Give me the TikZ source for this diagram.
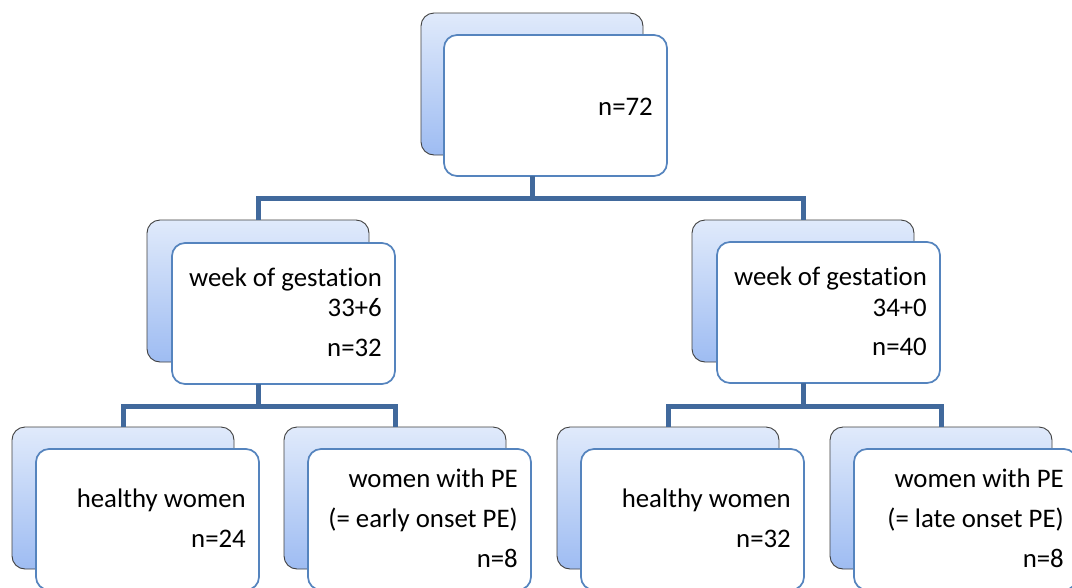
\documentclass[tikz,border=0pt]{standalone}
\usepackage{fontspec}
\setmainfont[Ligatures=NoCommon]{Carlito}
\usetikzlibrary{calc}
\definecolor{bktop}{HTML}{E0EAFB}
\definecolor{bkbot}{HTML}{9EBCF2}
\definecolor{frontblue}{HTML}{5584BE}
\definecolor{linkblue}{HTML}{41699C}
\definecolor{txt}{HTML}{000000}
\tikzset{
  backbox/.style={draw=black!75, line width=0.9pt, rounded corners=13pt,
    top color=bktop, bottom color=bkbot, minimum width=222pt, minimum height=142pt,
    anchor=north west, inner sep=0pt, outer sep=0pt},
  frontbox/.style={draw=frontblue, line width=1.7pt, fill=white, rounded corners=13pt,
    minimum width=223pt, minimum height=141pt, anchor=north west, inner sep=0pt, outer sep=0pt},
  link/.style={draw=linkblue, line width=5pt},
  lbl/.style={anchor=base east, inner sep=0pt, text=txt, font=\fontsize{26.8}{30}\selectfont}
}
\begin{document}
\begin{tikzpicture}[x=1pt,y=-1pt]
\useasboundingbox (0,0) rectangle (1072,587);
\clip (0,0) rectangle (1072,587);
\fill[white] (0,0) rectangle (1072,587);

% top
\node[backbox] (t0) at (421,13) {};
\node[frontbox] (t) at (444,35) {};
% middle
\node[backbox] (ml0) at (147,220) {};
\node[frontbox] (ml) at (172,243) {};
\node[backbox] (mr0) at (692,220) {};
\node[frontbox] (mr) at (717,242) {};
% bottom
\node[backbox] (b10) at (12,427) {};
\node[frontbox] (b1) at (36,449) {};
\node[backbox] (b20) at (284,427) {};
\node[frontbox] (b2) at (308,449) {};
\node[backbox] (b30) at (557,427) {};
\node[frontbox] (b3) at (581,449) {};
\node[backbox] (b40) at (830,427) {};
\node[frontbox] (b4) at (854,449) {};

% connectors
\coordinate (tj) at (t.south -| t0.south);
\draw[link] (tj) -- ++(0,22) -| (ml0.north);
\draw[link] (tj) -- ++(0,22) -| (mr0.north);
\coordinate (mlj) at (ml.south -| ml0.south);
\draw[link] (mlj) -- ++(0,22) -| (b10.north);
\draw[link] (mlj) -- ++(0,22) -| (b20.north);
\coordinate (mrj) at (mr.south -| mr0.south);
\draw[link] (mrj) -- ++(0,23) -| (b30.north);
\draw[link] (mrj) -- ++(0,23) -| (b40.north);

% texts
\node[lbl] (tt) at ($(t.north east)+(-14,80)$) {n=72};

\node[lbl] (mla) at ($(ml.north east)+(-13,43)$) {week of gestat\kern0pt ion};
\node[lbl] (mlb) at ($(ml.north east)+(-13,73)$) {33+6};
\node[lbl] (mlc) at ($(ml.north east)+(-13,113)$) {n=32};

\node[lbl] (mra) at ($(mr.north east)+(-13,43)$) {week of gestat\kern0pt ion};
\node[lbl] (mrb) at ($(mr.north east)+(-13,74)$) {34+0};
\node[lbl] (mrc) at ($(mr.north east)+(-13,113)$) {n=40};

\node[lbl] (b1a) at ($(b1.north east)+(-13,58)$) {healthy women};
\node[lbl] (b1b) at ($(b1.north east)+(-13,98)$) {n=24};

\node[lbl] (b2a) at ($(b2.north east)+(-13,38)$) {women with PE};
\node[lbl] (b2b) at ($(b2.north east)+(-13,78)$) {(= early onset PE)};
\node[lbl] (b2c) at ($(b2.north east)+(-13,118)$) {n=8};

\node[lbl] (b3a) at ($(b3.north east)+(-13,58)$) {healthy women};
\node[lbl] (b3b) at ($(b3.north east)+(-13,98)$) {n=32};

\node[lbl] (b4a) at ($(b4.north east)+(-13,38)$) {women with PE};
\node[lbl] (b4b) at ($(b4.north east)+(-13,78)$) {(= late onset PE)};
\node[lbl] (b4c) at ($(b4.north east)+(-13,118)$) {n=8};
\end{tikzpicture}
\end{document}
